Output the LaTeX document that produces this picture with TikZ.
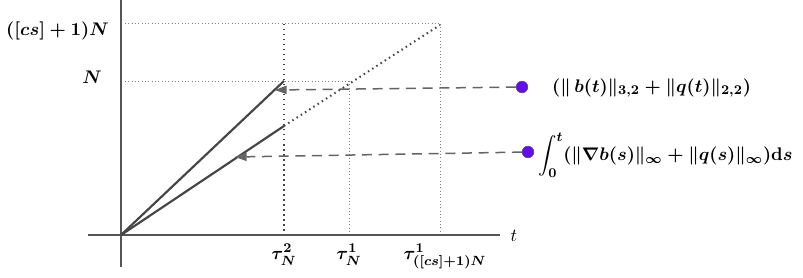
\documentclass[tikz,border=0pt]{standalone}
\usepackage{amsmath,amssymb,bm}
\usetikzlibrary{arrows.meta}
\definecolor{axisgray}{RGB}{85,85,85}
\definecolor{linegray}{RGB}{70,70,70}
\definecolor{dashgray}{RGB}{100,100,100}
\definecolor{dotpurple}{RGB}{100,10,245}
\tikzset{
  axis/.style={draw=axisgray, line width=1.3pt},
  solidline/.style={draw=linegray, line width=1.3pt},
  thindot/.style={draw=gray, line width=0.6pt, dash pattern=on 0.6pt off 1.4pt},
  thickdot/.style={draw=linegray, line width=1.2pt, dash pattern=on 0.9pt off 2.1pt},
  dashline/.style={draw=dashgray, line width=0.9pt, dash pattern=on 6pt off 4pt,
    -{Triangle[length=7pt,width=5pt]}},
  pt/.style={circle, fill=dotpurple, draw=black!70, line width=0.3pt, inner sep=0pt, minimum size=7pt},
  lab/.style={inner sep=0.5pt, font=\fontsize{11}{13}\selectfont\boldmath},
  plainlab/.style={inner sep=0.5pt, font=\fontsize{11}{13}\selectfont},
}
\begin{document}
\begin{tikzpicture}[x=0.6pt,y=-0.6pt]
\useasboundingbox (0,0) rectangle (803,277);
% coordinates
\coordinate (O) at (121,235);
\coordinate (ytop) at (121,0);
\coordinate (ybot) at (121,267);
\coordinate (xl) at (88,235);
\coordinate (xr) at (500,235);
\coordinate (A) at (284,81);
\coordinate (B) at (284,126);
\coordinate (C) at (440,25);
\coordinate (yN) at (125,81);
\coordinate (yM) at (125,24);
\coordinate (vN1) at (349,81);
\coordinate (vM) at (440,24);
\coordinate (v2top) at (284,24);
\coordinate (b2) at (284,235);
\coordinate (b1) at (349,235);
\coordinate (b3) at (440,235);
% dotted guide lines
\draw[thindot] (yM) -- (vM);
\draw[thindot] (yN) -- (vN1);
\draw[thickdot] (v2top) -- (b2);
\draw[thindot] (vN1) -- (b1);
\draw[thindot] (vM) -- (b3);
% axes
\draw[axis] (ytop) -- (ybot);
\draw[axis] (xl) -- (xr);
% lines
\draw[solidline] (O) -- (A);
\draw[solidline] (O) -- (B);
\draw[thickdot] (B) -- (C);
% points and dashed arrows
\node[pt] (p1) at (522,87) {};
\node[pt] (p2) at (528,152) {};
\coordinate (t1) at (275,90);
\coordinate (t2) at (235,157);
\draw[dashline] (p1) -- (t1);
\draw[dashline] (p2) -- (t2);
% labels
\node[lab, anchor=east] (lM) at (110,31) {$([cs]+1)N$};
\node[lab, anchor=east] (lN) at (103,77) {$N$};
\node[plainlab] (lt) at (514,236) {$t$};
\node[lab, anchor=north] (tau2) at (284,243) {$\tau_N^2$};
\node[lab, anchor=north] (tau1) at (349,243) {$\tau_N^1$};
\node[lab, anchor=north] (tau3) at (445,243) {$\tau^1_{([cs]+1)N}$};
\node[lab, anchor=west] (f1) at (551,88) {$(\|\, b(t)\|_{3,2}+\|q(t)\|_{2,2})$};
\node[lab, anchor=west] (f2) at (537,155) {$\displaystyle\int_0^t(\|\nabla b(s)\|_\infty+\|q(s)\|_\infty)\mathbf{d}s$};
\end{tikzpicture}
\end{document}
